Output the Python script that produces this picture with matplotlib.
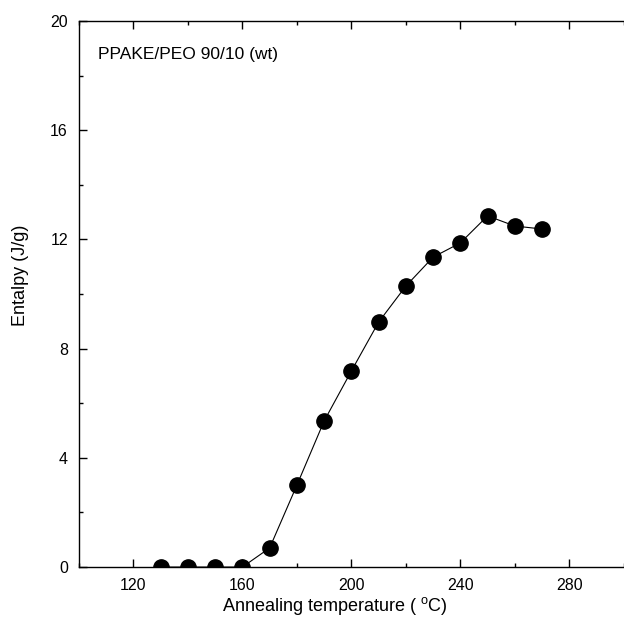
import matplotlib
matplotlib.use('Agg')
import matplotlib.pyplot as plt
from matplotlib.ticker import MultipleLocator

plt.rcParams['font.family'] = 'Liberation Sans'
plt.rcParams['mathtext.fontset'] = 'custom'
plt.rcParams['mathtext.rm'] = 'Liberation Sans'

# annealing temperature (C) vs enthalpy (J/g)
temperature = [130, 140, 150, 160, 170, 180, 190, 200, 210, 220, 230, 240, 250, 260, 270]
enthalpy = [0.0, 0.0, 0.0, 0.0, 0.7, 3.0, 5.35, 7.18, 8.97, 10.29, 11.35, 11.87, 12.86, 12.49, 12.38]

fig = plt.figure(figsize=(6.24, 6.35), dpi=100)
ax = fig.add_axes([0.1266, 0.107, 0.873, 0.860])

ax.plot(temperature, enthalpy, 'k-', lw=0.8, marker='o', ms=11,
        markerfacecolor='k', markeredgecolor='k', zorder=3)

ax.set_xlim(100, 300)
ax.set_ylim(0, 20)
ax.xaxis.set_major_locator(MultipleLocator(40))
ax.xaxis.set_minor_locator(MultipleLocator(20))
ax.yaxis.set_major_locator(MultipleLocator(4))
ax.yaxis.set_minor_locator(MultipleLocator(2))
ax.set_xticks([120, 160, 200, 240, 280])
ax.spines['right'].set_visible(False)
ax.tick_params(which='both', direction='in', top=True, right=False, width=1)
ax.tick_params(which='major', length=6, labelsize=11.5, pad=8)
ax.tick_params(which='minor', length=3)
for s in ax.spines.values():
    s.set_linewidth(1)

ax.set_xlabel(r'Annealing temperature ( $^{\mathrm{o}}$C)', fontsize=13)
ax.set_ylabel('Entalpy (J/g)', fontsize=13)
ax.xaxis.set_label_coords(0.47, -0.052)
ax.yaxis.set_label_coords(-0.092, 0.535)
ax.text(0.035, 0.93, 'PPAKE/PEO 90/10 (wt)', transform=ax.transAxes, fontsize=12.5)

fig.savefig('out.png', dpi=100)
